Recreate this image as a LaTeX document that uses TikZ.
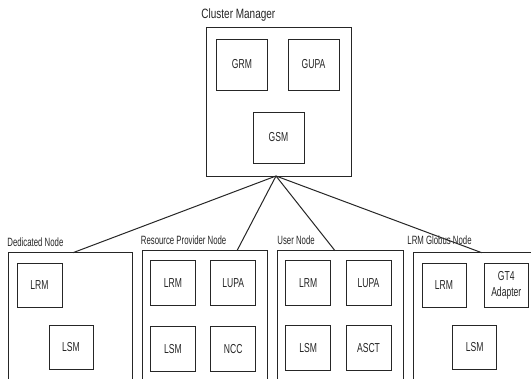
\documentclass[tikz,border=0pt]{standalone}
\usepackage{fontspec}
\setmainfont{Liberation Sans}
\newfontfamily\boxfont[FakeStretch=0.66]{Liberation Sans}
\newfontfamily\titlefont[FakeStretch=0.65]{Liberation Sans}
\newfontfamily\cmfont[FakeStretch=0.74]{Liberation Sans}
\begin{document}
\begin{tikzpicture}[x=1pt,y=-1pt,
  line width=0.9pt,
  frame/.style={draw=black!85, rectangle, inner sep=0pt},
  comp/.style={draw=black!85, rectangle, inner sep=0pt, minimum width=45pt, minimum height=45pt,
     align=center, text=black!85, font=\boxfont\fontsize{13}{13}\selectfont},
  gcomp/.style={comp, minimum width=51pt, minimum height=51pt},
  title/.style={inner sep=0pt, anchor=base west, text=black!85, font=\titlefont\fontsize{12}{13}\selectfont},
  link/.style={draw=black!85, line width=1pt}]
\useasboundingbox (0,0) rectangle (531,379);
\clip (0,0) rectangle (531,379);
\fill[white] (0,0) rectangle (531,379);
% Cluster manager
\node[frame, minimum width=145pt, minimum height=149pt] (cm) at (278.5,101.5) {};
\node[title, font=\cmfont\fontsize{13.5}{15}\selectfont] (cmlabel) at (201,18.3) {Cluster Manager};
\node[gcomp] (grm) at (242,64.5) {GRM};
\node[gcomp] (gupa) at (313.5,64.5) {GUPA};
\node[gcomp] (gsm) at (278.5,137.5) {GSM};
\coordinate (apex) at (276,176);
% Dedicated node
\node[frame, minimum width=124.4pt, minimum height=160pt] (dn) at (70.5,332.7) {};
\node[title] (dnlabel) at (7,246.7) {Dedicated Node};
\node[comp, minimum height=44pt] (dlrm) at (39.5,285) {LRM};
\node[comp, minimum width=44pt, minimum height=44pt] (dlsm) at (71,347) {LSM};
\coordinate (dtop) at (73,252.7);
% Resource provider node
\node[frame, minimum width=125pt, minimum height=160pt] (rp) at (205.2,330.7) {};
\node[title] (rplabel) at (140.5,244.3) {Resource Provider Node};
\node[comp] (rlrm) at (173,283.2) {LRM};
\node[comp] (rlupa) at (233.2,283.2) {LUPA};
\node[comp] (rlsm) at (173,349) {LSM};
\node[comp] (rncc) at (233.2,349) {NCC};
\coordinate (rtop) at (237,250.7);
% User node
\node[frame, minimum width=126pt, minimum height=160pt] (un) at (340.3,330.7) {};
\node[title] (unlabel) at (277,244.3) {User Node};
\node[comp] (ulrm) at (308.2,283.2) {LRM};
\node[comp] (ulupa) at (368.5,283.2) {LUPA};
\node[comp] (ulsm) at (308.2,348.2) {LSM};
\node[comp] (uasct) at (368.5,348.2) {ASCT};
\coordinate (utop) at (335,250.7);
% LRM Globus node
\node[frame, minimum width=140pt, minimum height=160pt] (gn) at (483.3,332.7) {};
\node[title] (gnlabel) at (407,245) {LRM Globus Node};
\node[comp, minimum width=44pt, minimum height=44pt] (glrm) at (444,285.3) {LRM};
\node[comp, minimum width=44pt, minimum height=44pt] (ggt4) at (506.3,285.3) {GT4\\[2.5pt]Adapter};
\node[comp, minimum width=44pt, minimum height=44pt] (glsm) at (474.7,347.3) {LSM};
\coordinate (gtop) at (481.7,252.7);
% connectors
\draw[link] (apex) -- (dtop);
\draw[link] (apex) -- (rtop);
\draw[link] (apex) -- (utop);
\draw[link] (apex) -- (gtop);
\end{tikzpicture}
\end{document}
